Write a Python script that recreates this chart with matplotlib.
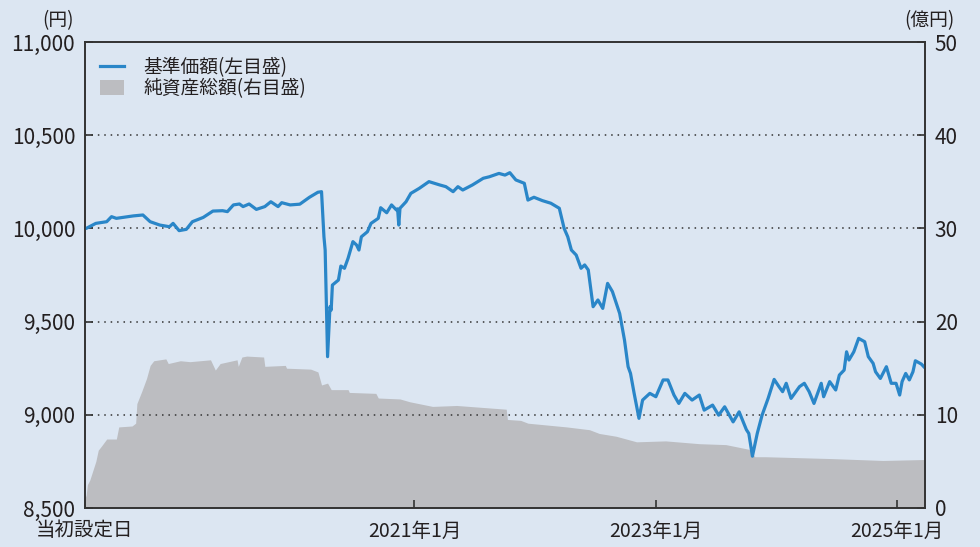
import matplotlib
matplotlib.use("Agg")
import matplotlib.pyplot as plt
from matplotlib.lines import Line2D
from matplotlib.patches import Patch

plt.rcParams['font.family'] = ['Noto Sans CJK JP', 'DejaVu Sans']

# 基準価額 (円), time in decimal years
nav_t = [2018.27, 2018.28, 2018.36, 2018.45, 2018.49, 2018.53, 2018.67, 2018.75, 2018.81, 2018.89,
         2018.97, 2019.00, 2019.05, 2019.11, 2019.16, 2019.25, 2019.33, 2019.41, 2019.45, 2019.50,
         2019.55, 2019.58, 2019.63, 2019.69, 2019.76, 2019.81, 2019.87, 2019.90, 2019.97, 2020.05,
         2020.13, 2020.20, 2020.23, 2020.25, 2020.26, 2020.28, 2020.30, 2020.31, 2020.32, 2020.37,
         2020.39, 2020.42, 2020.45, 2020.49, 2020.52, 2020.54, 2020.56, 2020.61, 2020.64, 2020.70,
         2020.72, 2020.77, 2020.81, 2020.85, 2020.86, 2020.87, 2020.88, 2020.93, 2020.97, 2021.04,
         2021.12, 2021.21, 2021.26, 2021.32, 2021.36, 2021.40, 2021.48, 2021.57, 2021.62, 2021.70,
         2021.75, 2021.79, 2021.84, 2021.91, 2021.94, 2021.99, 2022.06, 2022.13, 2022.20, 2022.24,
         2022.27, 2022.30, 2022.34, 2022.38, 2022.41, 2022.44, 2022.48, 2022.52, 2022.56, 2022.60,
         2022.64, 2022.70, 2022.74, 2022.77, 2022.79, 2022.82, 2022.86, 2022.89, 2022.95, 2023.00,
         2023.06, 2023.10, 2023.15, 2023.19, 2023.24, 2023.30, 2023.36, 2023.40, 2023.47, 2023.52,
         2023.57, 2023.64, 2023.69, 2023.75, 2023.77, 2023.80, 2023.84, 2023.88, 2023.93, 2023.98,
         2024.02, 2024.05, 2024.08, 2024.12, 2024.19, 2024.23, 2024.27, 2024.31, 2024.37, 2024.39,
         2024.44, 2024.49, 2024.52, 2024.56, 2024.58, 2024.60, 2024.64, 2024.68, 2024.73, 2024.76,
         2024.80, 2024.82, 2024.86, 2024.91, 2024.95, 2024.99, 2025.02, 2025.04, 2025.07, 2025.10,
         2025.13, 2025.15, 2025.20, 2025.22]
nav = [10000, 10000, 10027, 10036, 10063, 10054, 10067, 10072, 10036, 10018,
       10009, 10027, 9988, 9995, 10036, 10059, 10093, 10095, 10090, 10126,
       10131, 10117, 10131, 10102, 10117, 10143, 10117, 10138, 10126, 10130,
       10167, 10194, 10197, 9955, 9884, 9312, 9580, 9562, 9696, 9723,
       9798, 9786, 9840, 9929, 9911, 9884, 9955, 9982, 10027, 10054,
       10111, 10084, 10126, 10099, 10105, 10018, 10108, 10143, 10188, 10215,
       10251, 10233, 10224, 10197, 10224, 10206, 10233, 10269, 10277, 10295,
       10286, 10299, 10260, 10242, 10152, 10167, 10149, 10135, 10108, 10000,
       9955, 9884, 9857, 9786, 9804, 9777, 9580, 9616, 9571, 9705,
       9661, 9544, 9401, 9258, 9222, 9115, 8981, 9079, 9115, 9097,
       9187, 9187, 9106, 9061, 9115, 9079, 9106, 9025, 9052, 8998,
       9043, 8962, 9016, 8920, 8900, 8778, 8900, 8998, 9088, 9190,
       9151, 9124, 9169, 9088, 9151, 9169, 9124, 9061, 9169, 9097,
       9178, 9133, 9213, 9240, 9338, 9294, 9338, 9410, 9392, 9312,
       9276, 9231, 9195, 9258, 9169, 9169, 9106, 9178, 9222, 9187,
       9231, 9290, 9272, 9258]

# 純資産総額 (億円)
aum_t = [2018.27, 2018.28, 2018.29, 2018.31, 2018.36, 2018.38, 2018.41, 2018.45, 2018.53, 2018.55,
         2018.66, 2018.69, 2018.70, 2018.74, 2018.78, 2018.81, 2018.84, 2018.94, 2018.96, 2019.06,
         2019.14, 2019.31, 2019.35, 2019.39, 2019.53, 2019.54, 2019.57, 2019.61, 2019.75, 2019.76,
         2019.93, 2019.94, 2020.14, 2020.20, 2020.23, 2020.28, 2020.31, 2020.45, 2020.46, 2020.68,
         2020.70, 2020.88, 2020.96, 2021.15, 2021.35, 2021.76, 2021.77, 2021.88, 2021.94, 2022.26,
         2022.45, 2022.53, 2022.67, 2022.84, 2023.08, 2023.36, 2023.58, 2023.77, 2023.82, 2023.91,
         2024.46, 2024.88, 2025.22]
aum = [1.0, 1.4, 2.5, 3.0, 5.0, 6.2, 6.7, 7.4, 7.4, 8.7,
       8.8, 9.1, 11.2, 12.5, 13.9, 15.3, 15.8, 16.0, 15.5, 15.8,
       15.7, 15.9, 14.8, 15.5, 15.9, 15.2, 16.2, 16.3, 16.2, 15.2,
       15.3, 15.0, 14.9, 14.6, 13.2, 13.4, 12.7, 12.7, 12.4, 12.3,
       11.8, 11.7, 11.4, 10.9, 11.0, 10.6, 9.5, 9.4, 9.1, 8.7,
       8.4, 8.0, 7.7, 7.1, 7.2, 6.9, 6.8, 6.3, 5.5, 5.5,
       5.3, 5.1, 5.2]

x_ticks = [2018.27, 2021.0, 2023.0, 2025.0]
x_labels = ['当初設定日', '2021年1月', '2023年1月', '2025年1月']
left_ticks = [8500, 9000, 9500, 10000, 10500, 11000]
right_ticks = [0, 10, 20, 30, 40, 50]

bg = '#dce6f2'
blue = '#2a86c8'
gray = '#bcbdc1'
dark = '#333333'
txt = '#231f20'

fig = plt.figure(figsize=(9.8, 5.47), dpi=100, facecolor=bg)
ax1 = fig.add_axes([0.0867, 0.0713, 0.8572, 0.8519])
ax2 = ax1.twinx()

# assets in the back, NAV line on top
ax1.set_zorder(2)
ax1.patch.set_visible(False)
ax2.set_facecolor('white')

ax2.fill_between(aum_t, aum, 0, color=gray, linewidth=0)
ax2.set_ylim(0, 50)
ax2.set_yticks(right_ticks)

ax1.plot(nav_t, nav, color=blue, linewidth=2.3, solid_joinstyle='round')
ax1.set_ylim(8500, 11000)
ax1.set_xlim(2018.27, 2025.23)
ax1.set_yticks(left_ticks)
ax1.set_yticklabels([f'{v:,}' for v in left_ticks])
ax1.set_xticks(x_ticks)
ax1.set_xticklabels(x_labels)

for v in left_ticks[1:-1]:
    ax1.axhline(v, color='#333333', linewidth=1.1, linestyle=(0, (1, 3.2)), zorder=1)

for ax in (ax1, ax2):
    for s in ax.spines.values():
        s.set_color(dark)
        s.set_linewidth(1.2)
    ax.tick_params(direction='in', length=6, width=1.2, color=dark,
                   labelsize=15, labelcolor=txt, pad=7)
ax1.tick_params(axis='x', pad=9, labelsize=14)

fig.text(0.059, 0.962, '(円)', fontsize=13.5, color=txt, ha='center', va='center')
fig.text(0.948, 0.962, '(億円)', fontsize=13.5, color=txt, ha='center', va='center')

handles = [Line2D([0], [0], color=blue, linewidth=2.3),
           Patch(facecolor=gray, edgecolor='none')]
ax1.legend(handles, ['基準価額(左目盛)', '純資産総額(右目盛)'], loc='upper left',
           frameon=False, fontsize=13.5, handlelength=1.3, handleheight=0.8,
           handletextpad=1.0, labelspacing=0.0, borderaxespad=0.5,
           borderpad=0.3, labelcolor=txt)

fig.savefig('out.png', dpi=100, facecolor=bg)
